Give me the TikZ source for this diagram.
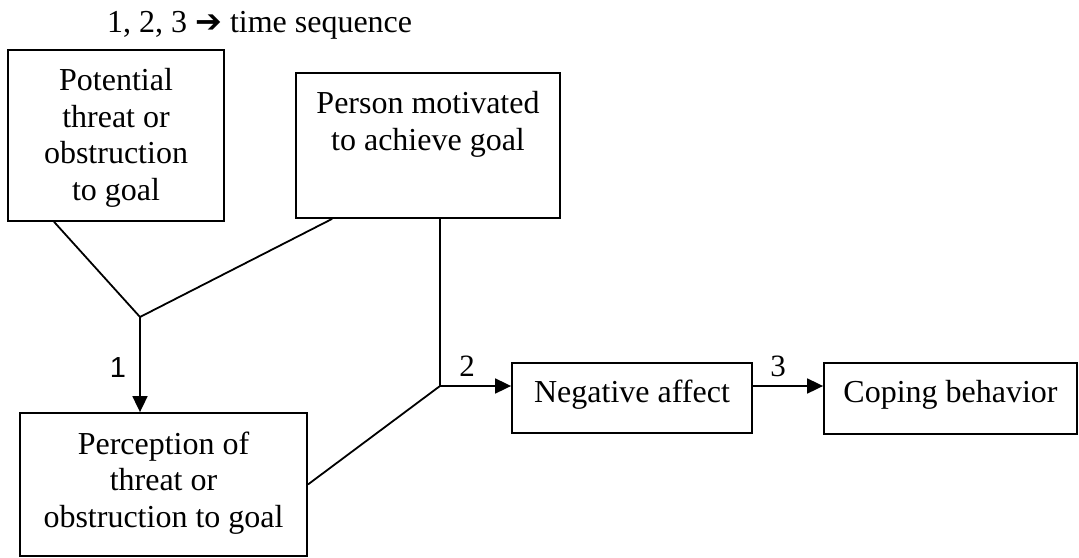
\documentclass[tikz,border=0pt]{standalone}
\usepackage{fontspec}
\setmainfont{Liberation Serif}
\newfontfamily\labelsans{Liberation Sans}
\newfontfamily\arrowglyph{DejaVu Sans}
\usetikzlibrary{arrows.meta}
\begin{document}
\begin{tikzpicture}[x=1pt,y=-1pt,
  frame/.style={draw, line width=1.8pt, inner sep=0pt},
  % base anchor of a multi-line text is the baseline of its last line
  boxtext/.style={anchor=base, align=center, inner sep=0pt,
                  font=\fontsize{32}{36.5}\selectfont},
  steplabel/.style={inner sep=0pt, font=\fontsize{31}{31}\selectfont},
  link/.style={line width=1.8pt},
  arrowlink/.style={link, -{Triangle[length=16pt,width=15pt]}}]
\useasboundingbox (0,0) rectangle (1079,557);

% heading
\node[anchor=base west, inner sep=0pt, font=\fontsize{32}{36}\selectfont]
  (T) at (107,32) {1, 2, 3 {\arrowglyph ➔} time sequence};

% boxes (frames) and their texts
\node[frame, minimum width=216pt, minimum height=171pt] (A) at (116,135.5) {};
\node[boxtext] (At) at (116,200) {Potential\\threat or\\obstruction\\to goal};

\node[frame, minimum width=264pt, minimum height=145pt] (B) at (428,145.5) {};
\node[boxtext] (Bt) at (428,150) {Person motivated\\to achieve goal};

\node[frame, minimum width=287pt, minimum height=143pt] (C) at (163.5,484.5) {};
\node[boxtext] (Ct) at (163.5,527) {Perception of\\threat or\\obstruction to goal};

\node[frame, minimum width=240pt, minimum height=70pt] (D) at (632,398) {};
\node[boxtext] (Dt) at (632,402) {Negative affect};

\node[frame, minimum width=253pt, minimum height=71pt] (E) at (950.5,398.5) {};
\node[boxtext] (Et) at (950.5,402) {Coping behavior};

% junction points
\coordinate (J1) at (140,317);
\coordinate (J2) at (440,386);

% connectors
\draw[link] ([xshift=47pt]A.south west) -- (J1);
\draw[link] ([xshift=37pt]B.south west) -- (J1);
\draw[arrowlink] (J1) -- (J1 |- C.north);
\draw[link] (B.south -| J2) -- (J2);
\draw[link] (C.east) -- (J2);
\draw[arrowlink] (J2) -- (J2 -| D.west);
\draw[arrowlink] (D.east |- J2) -- (E.west |- J2);

% sequence numbers
\node[steplabel, font=\labelsans\fontsize{29}{29}\selectfont] (L1) at (118,368) {1};
\node[steplabel] (L2) at (467,366) {2};
\node[steplabel] (L3) at (778,366) {3};
\end{tikzpicture}
\end{document}
